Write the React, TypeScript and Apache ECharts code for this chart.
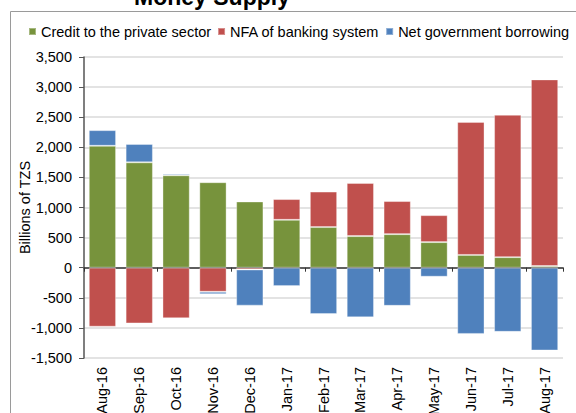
import React, { useEffect, useRef } from "react";
import * as echarts from "echarts";

const categories = ["Aug-16", "Sep-16", "Oct-16", "Nov-16", "Dec-16", "Jan-17", "Feb-17", "Mar-17", "Apr-17", "May-17", "Jun-17", "Jul-17", "Aug-17"];
const creditPrivate = [2025, 1750, 1535, 1420, 1100, 795, 675, 525, 557, 425, 212, 175, 28];
const nfaBanking = [-980, -925, -840, -400, -30, 345, 590, 882, 550, 448, 2210, 2365, 3100];
const netGovBorrowing = [260, 305, 25, -40, -600, -305, -770, -825, -633, -150, -1100, -1065, -1375];
const yTicks = { min: -1500, max: 3500, interval: 500 };

const FONT = "'Liberation Sans', Arial, sans-serif";
const FS = 14.5;

export default function App() {
  const ref = useRef<HTMLDivElement>(null);
  useEffect(() => {
    if (!ref.current) return;
    const chart = echarts.init(ref.current, undefined, { renderer: "svg" });
    const barBase = {
      type: "bar",
      stack: "total",
      barCategoryGap: "26%",
      xAxisIndex: 0,
      yAxisIndex: 0,
    };
    chart.setOption({
      animation: false,
      textStyle: { fontFamily: FONT },
      graphic: [
        {
          type: "rect",
          shape: { x: 10.5, y: 11.5, width: 700, height: 600 },
          style: { fill: "none", stroke: "#9a9a9a", lineWidth: 1 },
          silent: true,
        },
        {
          type: "text",
          x: 212,
          y: -3.5,
          style: {
            text: "Money Supply",
            font: `bold 23px ${FONT}`,
            fill: "#000",
            align: "center",
            verticalAlign: "middle",
          },
        },
      ],
      legend: {
        left: 28,
        top: 24,
        width: 700,
        padding: 0,
        itemWidth: 7,
        itemHeight: 7,
        itemGap: 6,
        icon: "rect",
        textStyle: { fontSize: FS, color: "#000", fontFamily: FONT },
        data: ["Credit to the private sector", "NFA of banking system", "Net government borrowing"],
      },
      grid: { left: 84, right: 13, top: 57, bottom: 55, containLabel: false, outerBoundsMode: "none" },
      xAxis: [
        {
          type: "category",
          data: categories,
          position: "bottom",
          axisLine: { onZero: true, lineStyle: { color: "#333", width: 1.5 } },
          axisTick: { show: true, inside: false, length: 4, lineStyle: { color: "#333" } },
          axisLabel: { show: false },
          splitLine: { show: false },
        },
        {
          type: "category",
          data: categories,
          position: "bottom",
          axisLine: { show: false, onZero: false },
          axisTick: { show: false },
          axisLabel: { show: true, rotate: 90, margin: 9, fontSize: FS, color: "#000", fontFamily: FONT },
          splitLine: { show: false },
        },
      ],
      yAxis: {
        type: "value",
        min: yTicks.min,
        max: yTicks.max,
        interval: yTicks.interval,
        name: "Billions of TZS",
        nameLocation: "middle",
        nameGap: 52,
        nameMoveOverlap: false,
        nameTextStyle: { fontSize: FS, color: "#000", fontFamily: FONT },
        axisLine: { show: true, lineStyle: { color: "#555", width: 1.5 } },
        axisTick: { show: true, length: 5, lineStyle: { color: "#555" } },
        axisLabel: {
          fontSize: FS,
          color: "#000",
          margin: 12,
          fontFamily: FONT,
          formatter: (v: number) => v.toLocaleString("en-US"),
        },
        splitLine: { show: true, lineStyle: { color: "#dadada", width: 1.5 } },
      },
      series: [
        {
          ...barBase,
          name: "Credit to the private sector",
          data: creditPrivate,
          itemStyle: { color: "#77933C", borderColor: "rgba(255,255,255,0.35)", borderWidth: 1 },
        },
        {
          ...barBase,
          name: "NFA of banking system",
          data: nfaBanking,
          itemStyle: { color: "#C0504D", borderColor: "rgba(255,255,255,0.35)", borderWidth: 1 },
        },
        {
          ...barBase,
          name: "Net government borrowing",
          data: netGovBorrowing,
          itemStyle: { color: "#4F81BD", borderColor: "rgba(255,255,255,0.35)", borderWidth: 1 },
        },
      ],
    });
    return () => chart.dispose();
  }, []);
  return <div ref={ref} style={{ width: 576, height: 413, position: "absolute", left: 0, top: 0, background: "#fff" }} />;
}
